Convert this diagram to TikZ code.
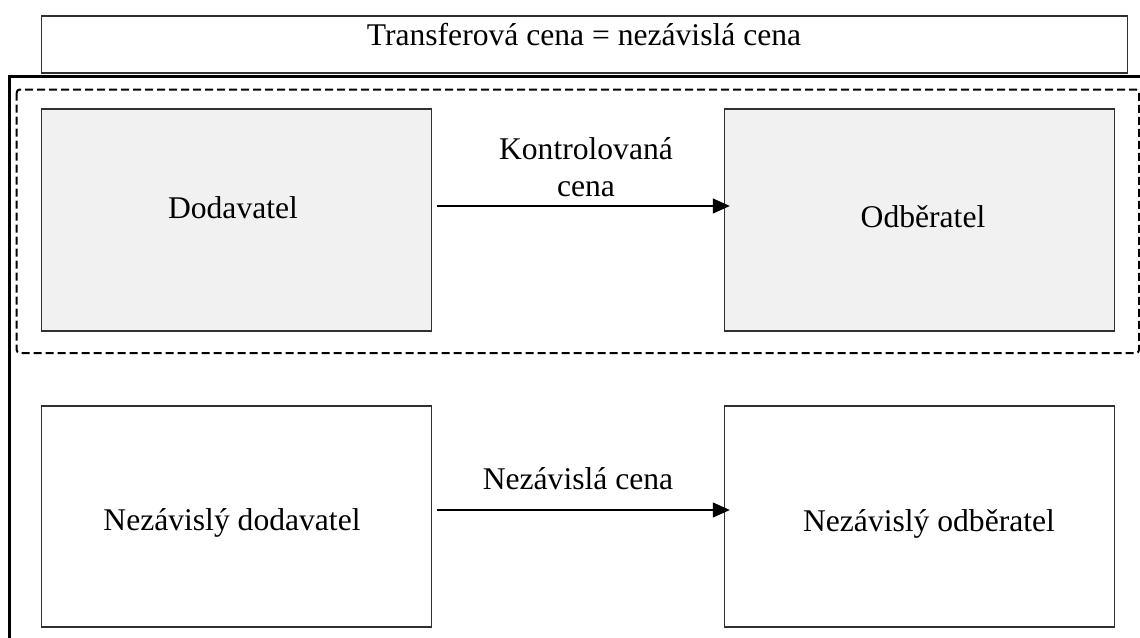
\documentclass[tikz,border=0pt]{standalone}
\usepackage{fontspec}
\setmainfont{Liberation Serif}
\usetikzlibrary{arrows.meta}
\definecolor{boxgray}{HTML}{F1F1F1}
\definecolor{edge}{HTML}{303030}
\begin{document}
\begin{tikzpicture}[x=0.5pt,y=-0.5pt,
  box/.style={draw=edge, line width=0.65pt, inner sep=0pt, outer sep=0pt, rectangle},
  graybox/.style={box, fill=boxgray, minimum width=195pt, minimum height=111pt},
  whitebox/.style={box, fill=white, minimum width=195pt, minimum height=110.5pt},
  txt/.style={anchor=base, inner sep=0pt, font=\fontsize{15.8}{18.5}\selectfont, align=center},
  arr/.style={draw=black, line width=0.65pt, -{Triangle[length=8.5pt,width=7.5pt]}, shorten <=2.6pt, shorten >=-2.8pt},
  frame/.style={draw=black, line width=1.5pt},
  group/.style={draw=black, line width=1pt, dash pattern=on 4pt off 2pt, rounded corners=1.5pt}]
\useasboundingbox (0,0) rectangle (1140,637);
% outer frame (cut by page edges)
\draw[frame] (9.5,660) -- (9.5,76) -- (1160,76);
% dashed group
\draw[group] (16.7,89.5) rectangle (1139,353);
% title
\node[box, minimum width=543.1pt, minimum height=28.5pt] (title) at (584.6,44.5) {};
\node[txt] (titletext) at (584,46) {Transferová cena = nezávislá cena};
% top row
\node[graybox] (dod) at (236.6,220) {};
\node[graybox] (odb) at (919.2,220) {};
\node[txt] (dodtext) at (233,218) {Dodavatel};
\node[txt] (odbtext) at (923,227) {Odběratel};
% bottom row
\node[whitebox] (ndod) at (236.6,516.5) {};
\node[whitebox] (nodb) at (919.2,516.5) {};
\node[txt] (ndodtext) at (232,530) {Nezávislý dodavatel};
\node[txt] (nodbtext) at (929,531) {Nezávislý odběratel};
% arrows
\draw[arr] ([yshift=7pt]dod.east) -- ([yshift=7pt]odb.west);
\draw[arr] ([yshift=3.25pt]ndod.east) -- ([yshift=3.25pt]nodb.west);
% arrow labels
\node[txt] (kc) at (586,196) {Kontrolovaná\\cena};
\node[txt] (nc) at (578,489) {Nezávislá cena};
\end{tikzpicture}
\end{document}
